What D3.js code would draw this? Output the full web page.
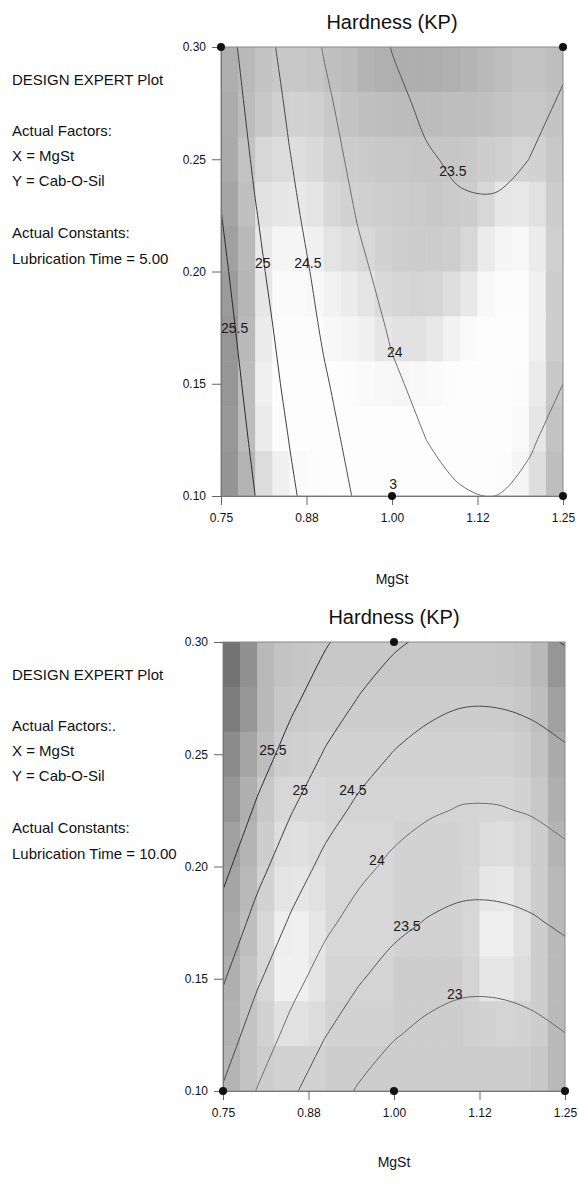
<!DOCTYPE html>
<html><head><meta charset="utf-8">
<script src="https://cdn.jsdelivr.net/npm/d3@7"></script>
<style>
body{margin:0;background:#fff;}
svg{display:block;font-family:Arial,"Liberation Sans",sans-serif;}
</style></head><body>
<svg id="chart" width="578" height="1183"></svg>
<script>
// ---- data ----
const xValues = [0.75,0.80,0.85,0.90,0.95,1.00,1.05,1.10,1.15,1.20,1.25];
const yValues = [0.30,0.275,0.25,0.225,0.20,0.175,0.15,0.125,0.10];
const levels = [23,23.5,24,24.5,25,25.5];
const levelLabels = ["23","23.5","24","24.5","25","25.5"];
const xTicks = [0.75,0.875,1.0,1.125,1.25];
const xTickLabels = ["0.75","0.88","1.00","1.12","1.25"];
const yTicks = [0.10,0.15,0.20,0.25,0.30];
const yTickLabels = ["0.10","0.15","0.20","0.25","0.30"];

// Hardness (KP), Lubrication Time = 5.00 (rows: Cab-O-Sil 0.30 -> 0.10, cols: MgSt 0.75 -> 1.25)
const hardnessLub5 = [
 [25.23,24.75,24.33,23.98,23.70,23.49,23.34,23.27,23.25,23.31,23.44],
 [25.32,24.84,24.43,24.08,23.80,23.58,23.44,23.36,23.35,23.41,23.53],
 [25.42,24.93,24.52,24.17,23.89,23.68,23.53,23.45,23.44,23.50,23.62],
 [25.51,25.03,24.61,24.26,23.98,23.77,23.62,23.55,23.54,23.59,23.72],
 [25.61,25.12,24.71,24.36,24.08,23.86,23.72,23.64,23.63,23.69,23.81],
 [25.70,25.22,24.80,24.45,24.17,23.96,23.81,23.73,23.72,23.78,23.90],
 [25.79,25.31,24.89,24.55,24.26,24.05,23.91,23.83,23.82,23.87,24.00],
 [25.89,25.40,24.99,24.64,24.36,24.15,24.00,23.92,23.91,23.97,24.09],
 [25.98,25.50,25.08,24.73,24.45,24.24,24.09,24.02,24.00,24.06,24.19]
];
// Hardness (KP), Lubrication Time = 10.00
const hardnessLub10 = [
 [26.78,26.30,25.89,25.54,25.27,25.06,24.92,24.84,24.84,24.90,25.02],
 [26.49,26.01,25.60,25.25,24.98,24.77,24.63,24.55,24.55,24.61,24.73],
 [26.20,25.72,25.31,24.96,24.69,24.48,24.34,24.26,24.26,24.32,24.44],
 [25.91,25.43,25.02,24.67,24.40,24.19,24.05,23.97,23.97,24.03,24.15],
 [25.62,25.14,24.73,24.38,24.11,23.90,23.76,23.68,23.68,23.74,23.86],
 [25.33,24.85,24.44,24.09,23.82,23.61,23.47,23.39,23.39,23.45,23.57],
 [25.04,24.56,24.15,23.80,23.53,23.32,23.18,23.10,23.10,23.16,23.28],
 [24.75,24.27,23.86,23.51,23.24,23.03,22.89,22.81,22.81,22.87,22.99],
 [24.46,23.98,23.57,23.22,22.95,22.74,22.60,22.52,22.52,22.58,22.70]
];

// background shading (grey level), 20 columns x 10 rows, top row first
const shadeLub5 = [
 [175,185,195,200,200,198,192,188,180,176,174,174,175,176,180,185,190,195,195,190],
 [172,188,200,208,210,208,200,195,192,190,188,188,188,190,190,192,196,200,200,195],
 [170,195,215,220,222,218,208,204,202,200,200,198,198,198,200,205,208,212,210,200],
 [165,192,225,230,232,228,215,210,208,206,204,202,200,202,205,215,230,232,225,205],
 [160,185,232,245,245,240,228,222,216,210,206,204,204,206,215,235,245,248,235,208],
 [155,182,230,250,250,248,242,236,228,218,214,212,214,222,232,248,252,252,240,205],
 [150,185,235,252,252,252,248,245,240,230,226,226,232,242,250,253,253,253,240,205],
 [150,188,240,253,253,253,253,252,250,248,246,248,250,252,253,253,253,252,235,200],
 [152,188,235,252,253,253,253,253,253,253,253,253,253,253,253,253,253,250,230,195],
 [148,180,220,240,250,252,253,253,253,253,253,253,253,253,253,253,252,245,222,190]
];
const shadeLub10 = [
 [115,145,185,195,198,200,200,200,200,200,200,200,200,200,200,200,198,195,185,150],
 [125,150,185,200,202,204,205,205,205,205,205,205,205,205,205,205,204,200,190,160],
 [140,165,190,205,208,210,210,210,210,210,210,210,210,210,210,210,210,205,195,170],
 [150,175,200,215,216,215,212,212,212,212,212,212,212,212,212,214,214,210,200,175],
 [160,180,205,222,224,220,215,215,215,215,210,210,210,210,212,220,222,215,205,180],
 [165,185,210,228,230,225,215,215,215,215,210,210,210,210,214,230,232,220,205,185],
 [170,190,215,238,240,230,215,215,215,215,210,210,210,210,215,238,238,225,205,185],
 [175,195,215,240,240,228,212,212,212,212,205,205,205,205,212,230,230,220,205,185],
 [178,195,210,225,225,220,210,210,210,210,205,205,205,205,208,210,212,210,205,185],
 [180,195,205,210,210,210,205,205,205,205,205,205,205,205,205,205,205,205,200,185]
];

const designPointsLub5 = [[0.75,0.30],[1.25,0.30],[1.00,0.10],[1.25,0.10]];
const designPointsLub10 = [[1.00,0.30],[0.75,0.10],[1.00,0.10],[1.25,0.10]];

// contour label anchors (MgSt, Cab-O-Sil)
const labelsLub5 = [
 {level:25.5, x:0.770, y:0.175},
 {level:25,   x:0.811, y:0.204},
 {level:24.5, x:0.877, y:0.204},
 {level:24,   x:1.004, y:0.164},
 {level:23.5, x:1.089, y:0.245}
];
const labelsLub10 = [
 {level:25.5, x:0.823, y:0.252},
 {level:25,   x:0.863, y:0.234},
 {level:24.5, x:0.940, y:0.234},
 {level:24,   x:0.975, y:0.203},
 {level:23.5, x:1.019, y:0.1735},
 {level:23,   x:1.089, y:0.1432}
];
const notesLub5 = [{text:"3", x:1.0015, y:0.1053}];
const notesLub10 = [];

const infoLub5 = ["DESIGN EXPERT Plot","Actual Factors:","X = MgSt","Y = Cab-O-Sil","Actual Constants:","Lubrication Time = 5.00"];
const infoLub10 = ["DESIGN EXPERT Plot","Actual Factors:.","X = MgSt","Y = Cab-O-Sil","Actual Constants:","Lubrication Time = 10.00"];
const titleText = "Hardness (KP)";
const xAxisTitle = "MgSt";

// ---- drawing ----
const svg = d3.select("#chart");
const defs = svg.append("defs");
const FONT = 'Arial,"Liberation Sans",sans-serif';
const lineColor = v => ({25.5:"#2b2b2b",25:"#3c3c3c",24.5:"#4a4a4a",24:"#6e6e6e",23.5:"#555",23:"#666"})[v] || "#555";
const infoOffsets = [38, 89, 114, 139, 191, 217];

// split a contour ring into open runs made only of points inside the sampled grid
function ringRuns(ring, nx, ny) {
  const eps = 1e-6;
  let pts = ring.slice();
  const a = pts[0], b = pts[pts.length - 1];
  if (a[0] === b[0] && a[1] === b[1]) pts.pop();
  const inside = p => p[0] > 0.5 - eps && p[0] < nx - 0.5 + eps && p[1] > 0.5 - eps && p[1] < ny - 0.5 + eps;
  const firstOut = pts.findIndex(p => !inside(p));
  if (firstOut < 0) return [{closed: true, pts}];
  pts = pts.slice(firstOut).concat(pts.slice(0, firstOut));
  const runs = [];
  let cur = null;
  for (const p of pts) {
    if (inside(p)) { (cur = cur || []).push(p); }
    else if (cur) { if (cur.length > 1) runs.push({closed: false, pts: cur}); cur = null; }
  }
  if (cur && cur.length > 1) runs.push({closed: false, pts: cur});
  return runs;
}

function drawPanel(p) {
  const x = d3.scaleLinear().domain([0.75,1.25]).range([p.left, p.right]);
  const y = d3.scaleLinear().domain([0.10,0.30]).range([p.bottom, p.top]);
  const g = svg.append("g");
  const clipId = "clip" + p.id;
  defs.append("clipPath").attr("id", clipId).append("rect")
    .attr("x", p.left).attr("y", p.top).attr("width", p.right - p.left).attr("height", p.bottom - p.top);

  // shading cells
  const nr = p.shade.length, nc = p.shade[0].length;
  const cx = d3.scaleLinear().domain([0, nc]).range([0.75, 1.25]);
  const cy = d3.scaleLinear().domain([0, nr]).range([0.30, 0.10]);
  const cells = [];
  p.shade.forEach((row, j) => row.forEach((v, i) => cells.push({i, j, v})));
  g.append("g").attr("clip-path", `url(#${clipId})`).selectAll("rect").data(cells).join("rect")
    .attr("x", d => x(cx(d.i)))
    .attr("y", d => y(cy(d.j)))
    .attr("width", d => x(cx(d.i + 1)) - x(cx(d.i)) + 0.6)
    .attr("height", d => y(cy(d.j + 1)) - y(cy(d.j)) + 0.6)
    .attr("fill", d => `rgb(${d.v},${d.v},${d.v})`);

  // contours
  const nx = xValues.length, ny = yValues.length;
  const contours = d3.contours().size([nx, ny]).thresholds(levels)(p.hardness.flat());
  const gx = d3.scaleLinear().domain([0.5, nx - 0.5]).range([xValues[0], xValues[nx - 1]]);
  const gy = d3.scaleLinear().domain([0.5, ny - 0.5]).range([yValues[0], yValues[ny - 1]]);
  const runs = [];
  contours.forEach(c => c.coordinates.forEach(poly => poly.forEach(ring => {
    ringRuns(ring, nx, ny).forEach(r => runs.push({value: c.value, closed: r.closed, pts: r.pts}));
  })));
  const lineOpen = d3.line().x(d => x(gx(d[0]))).y(d => y(gy(d[1]))).curve(d3.curveCatmullRom.alpha(0.5));
  const lineClosed = d3.line().x(d => x(gx(d[0]))).y(d => y(gy(d[1]))).curve(d3.curveCatmullRomClosed.alpha(0.5));
  g.append("g").attr("clip-path", `url(#${clipId})`).selectAll("path")
    .data(runs).join("path")
    .attr("d", d => (d.closed ? lineClosed : lineOpen)(d.pts)).attr("fill", "none")
    .attr("stroke", d => lineColor(d.value)).attr("stroke-width", 1);

  // frame
  g.append("rect").attr("x", p.left).attr("y", p.top)
    .attr("width", p.right - p.left).attr("height", p.bottom - p.top)
    .attr("fill", "none").attr("stroke", "#8a8a8a").attr("stroke-width", 1);

  // axes
  const styleAxis = a => {
    a.attr("font-size", 12).attr("font-family", FONT);
    a.select(".domain").attr("stroke", "#777");
    a.selectAll(".tick line").attr("stroke", "#666");
    a.selectAll(".tick text").attr("fill", "#111");
  };
  g.append("g").attr("transform", `translate(${p.left},0)`)
    .call(d3.axisLeft(y).tickValues(yTicks).tickFormat((d, i) => yTickLabels[i]).tickSize(9).tickPadding(6))
    .call(styleAxis);
  g.append("g").attr("transform", `translate(0,${p.bottom})`)
    .call(d3.axisBottom(x).tickValues(xTicks).tickFormat((d, i) => xTickLabels[i]).tickSize(9).tickPadding(8))
    .call(styleAxis);

  // contour labels
  g.append("g").selectAll("text").data(p.labels).join("text")
    .attr("x", d => x(d.x)).attr("y", d => y(d.y)).attr("dy", "0.36em")
    .attr("text-anchor", "middle").attr("font-size", 14).attr("fill", "#1a1a1a")
    .text(d => levelLabels[levels.indexOf(d.level)]);
  g.append("g").selectAll("text").data(p.notes).join("text")
    .attr("x", d => x(d.x)).attr("y", d => y(d.y)).attr("dy", "0.36em")
    .attr("text-anchor", "middle").attr("font-size", 14).attr("fill", "#1a1a1a")
    .text(d => d.text);

  // design points
  g.append("g").selectAll("circle").data(p.points).join("circle")
    .attr("cx", d => x(d[0])).attr("cy", d => y(d[1])).attr("r", 4).attr("fill", "#111");

  // titles
  g.append("text").attr("x", (p.left + p.right) / 2).attr("y", p.top - 18)
    .attr("text-anchor", "middle").attr("font-size", 20).attr("fill", "#111").text(titleText);
  g.append("text").attr("x", (p.left + p.right) / 2).attr("y", p.bottom + p.mgstOffset)
    .attr("text-anchor", "middle").attr("font-size", 14).attr("fill", "#111").text(xAxisTitle);

  // info block
  g.append("g").selectAll("text").data(p.info).join("text")
    .attr("x", 12).attr("y", (d, i) => p.top + infoOffsets[i])
    .attr("font-size", 15).attr("fill", "#111").text(d => d);
}

drawPanel({id: "a", left: 221, right: 563, top: 47, bottom: 496, mgstOffset: 88,
  hardness: hardnessLub5, shade: shadeLub5, points: designPointsLub5,
  labels: labelsLub5, notes: notesLub5, info: infoLub5});
drawPanel({id: "b", left: 223, right: 565, top: 642, bottom: 1091, mgstOffset: 76,
  hardness: hardnessLub10, shade: shadeLub10, points: designPointsLub10,
  labels: labelsLub10, notes: notesLub10, info: infoLub10});
</script>
</body></html>
